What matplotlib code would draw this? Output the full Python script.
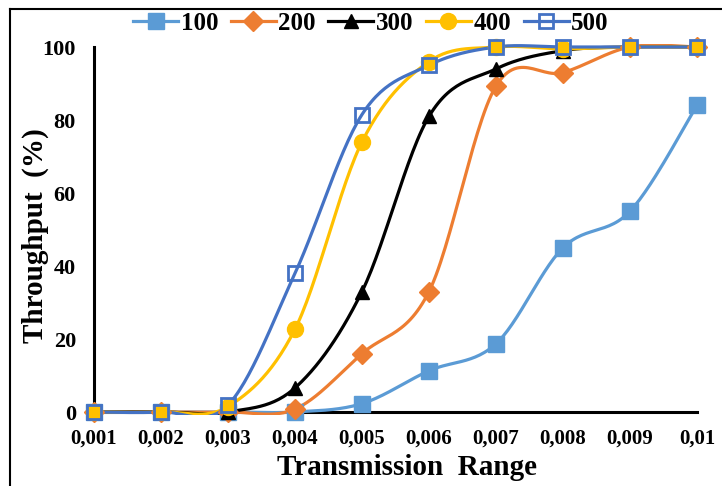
import matplotlib
matplotlib.use('Agg')
import matplotlib.pyplot as plt
from matplotlib.lines import Line2D
from matplotlib.patches import Rectangle
import numpy as np

plt.rcParams['font.family'] = ['Liberation Serif', 'DejaVu Serif']
plt.rcParams['font.weight'] = 'bold'

# Data
x_vals = [0.001, 0.002, 0.003, 0.004, 0.005, 0.006, 0.007, 0.008, 0.009, 0.01]
x_labels = ['0,001', '0,002', '0,003', '0,004', '0,005',
            '0,006', '0,007', '0,008', '0,009', '0,01']
s100 = [0, 0, 0, 0, 2.3, 11.3, 18.7, 45, 55, 84]
s200 = [0, 0, 0, 0.8, 16, 33, 89.3, 93, 100, 100]
s300 = [0, 0, 0, 6.6, 33, 81, 94, 99, 100, 100]
s400 = [0, 0, 1.5, 22.7, 74, 96, 100, 99.5, 100, 100]
s500 = [0, 0, 1.9, 38, 81.5, 95, 100, 100, 100, 100]
series_names = ['100', '200', '300', '400', '500']


def smooth(x, y, n=30):
    """Excel-like smoothed line: cubic Bezier with Catmull-Rom control points."""
    p = np.column_stack([x, y]).astype(float)
    ext = np.vstack([p[0], p, p[-1]])
    t = np.linspace(0, 1, n)[:, None]
    out = []
    for i in range(len(p) - 1):
        p0, p1, p2, p3 = ext[i], ext[i + 1], ext[i + 2], ext[i + 3]
        c1 = p1 + (p2 - p0) / 6
        c2 = p2 - (p3 - p1) / 6
        seg = ((1 - t) ** 3) * p1 + 3 * ((1 - t) ** 2) * t * c1 \
            + 3 * (1 - t) * t ** 2 * c2 + t ** 3 * p2
        out.append(seg if i == 0 else seg[1:])
    out = np.vstack(out)
    return out[:, 0], out[:, 1]


styles = [
    dict(color='#5B9BD5', marker='s', ms=12, mfc='#5B9BD5', mec='#5B9BD5', mew=1),
    dict(color='#ED7D31', marker='D', ms=10, mfc='#ED7D31', mec='#ED7D31', mew=1),
    dict(color='#000000', marker='^', ms=10.5, mfc='#000000', mec='#000000', mew=1),
    dict(color='#FFC000', marker='o', ms=11.5, mfc='#FFC000', mec='#FFC000', mew=1),
    dict(color='#4472C4', marker='s', ms=10.5, mfc='none', mec='#4472C4', mew=2),
]

fig = plt.figure(figsize=(7.22, 4.86), dpi=100)
ax = fig.add_axes([94 / 722, 74 / 486, 603 / 722, 365 / 486])
ax.set_xlim(0.001, 0.01)
ax.set_ylim(0, 100)

# Excel clips series lines to the plot area (small margin so lines on 0 stay whole)
clip = Rectangle((0.0009, -0.8), 0.0092, 101.6, transform=ax.transData,
                 facecolor='none', edgecolor='none')

handles = []
for name, ys, st in zip(series_names, [s100, s200, s300, s400, s500], styles):
    sx, sy = smooth(x_vals, ys)
    ln, = ax.plot(sx, sy, color=st['color'], lw=2.3, zorder=3)
    ln.set_clip_path(clip)
    ax.plot(x_vals, ys, ls='none', marker=st['marker'], ms=st['ms'],
            mfc=st['mfc'], mec=st['mec'], mew=st['mew'], clip_on=False, zorder=4)
    handles.append(Line2D([], [], color=st['color'], lw=2.3, marker=st['marker'],
                          ms=st['ms'], mfc=st['mfc'], mec=st['mec'], mew=st['mew'],
                          label=name))

ax.set_xticks(x_vals)
ax.set_xticklabels(x_labels)
ax.set_yticks([0, 20, 40, 60, 80, 100])
ax.tick_params(axis='x', length=0, labelsize=15, pad=12)
ax.tick_params(axis='y', length=0, labelsize=16, pad=13)
for lab in ax.get_xticklabels() + ax.get_yticklabels():
    lab.set_fontweight('bold')

for side in ['top', 'right']:
    ax.spines[side].set_visible(False)
for side in ['left', 'bottom']:
    ax.spines[side].set_linewidth(2.2)
    ax.spines[side].set_zorder(2)

ax.set_xlabel('Transmission  Range', fontsize=21, fontweight='bold')
ax.set_ylabel('Throughput  (%)', fontsize=21, fontweight='bold')
ax.xaxis.set_label_coords(0.519, -0.115)
ax.yaxis.set_label_coords(-0.074, 0.482)

fig.legend(handles=handles, loc='center', bbox_to_anchor=(371 / 722, 1 - 23 / 486),
           ncol=5, frameon=False, handlelength=1.8, handletextpad=0.1,
           columnspacing=0.5, prop={'size': 18, 'weight': 'bold'})

# outer chart border (left and top edges visible)
fig.add_artist(Line2D([10 / 722, 10 / 722], [0, 1 - 9 / 486], transform=fig.transFigure,
                      color='black', lw=1.5))
fig.add_artist(Line2D([10 / 722, 1], [1 - 9 / 486, 1 - 9 / 486], transform=fig.transFigure,
                      color='black', lw=1.5))

fig.savefig('out.png', dpi=100)
